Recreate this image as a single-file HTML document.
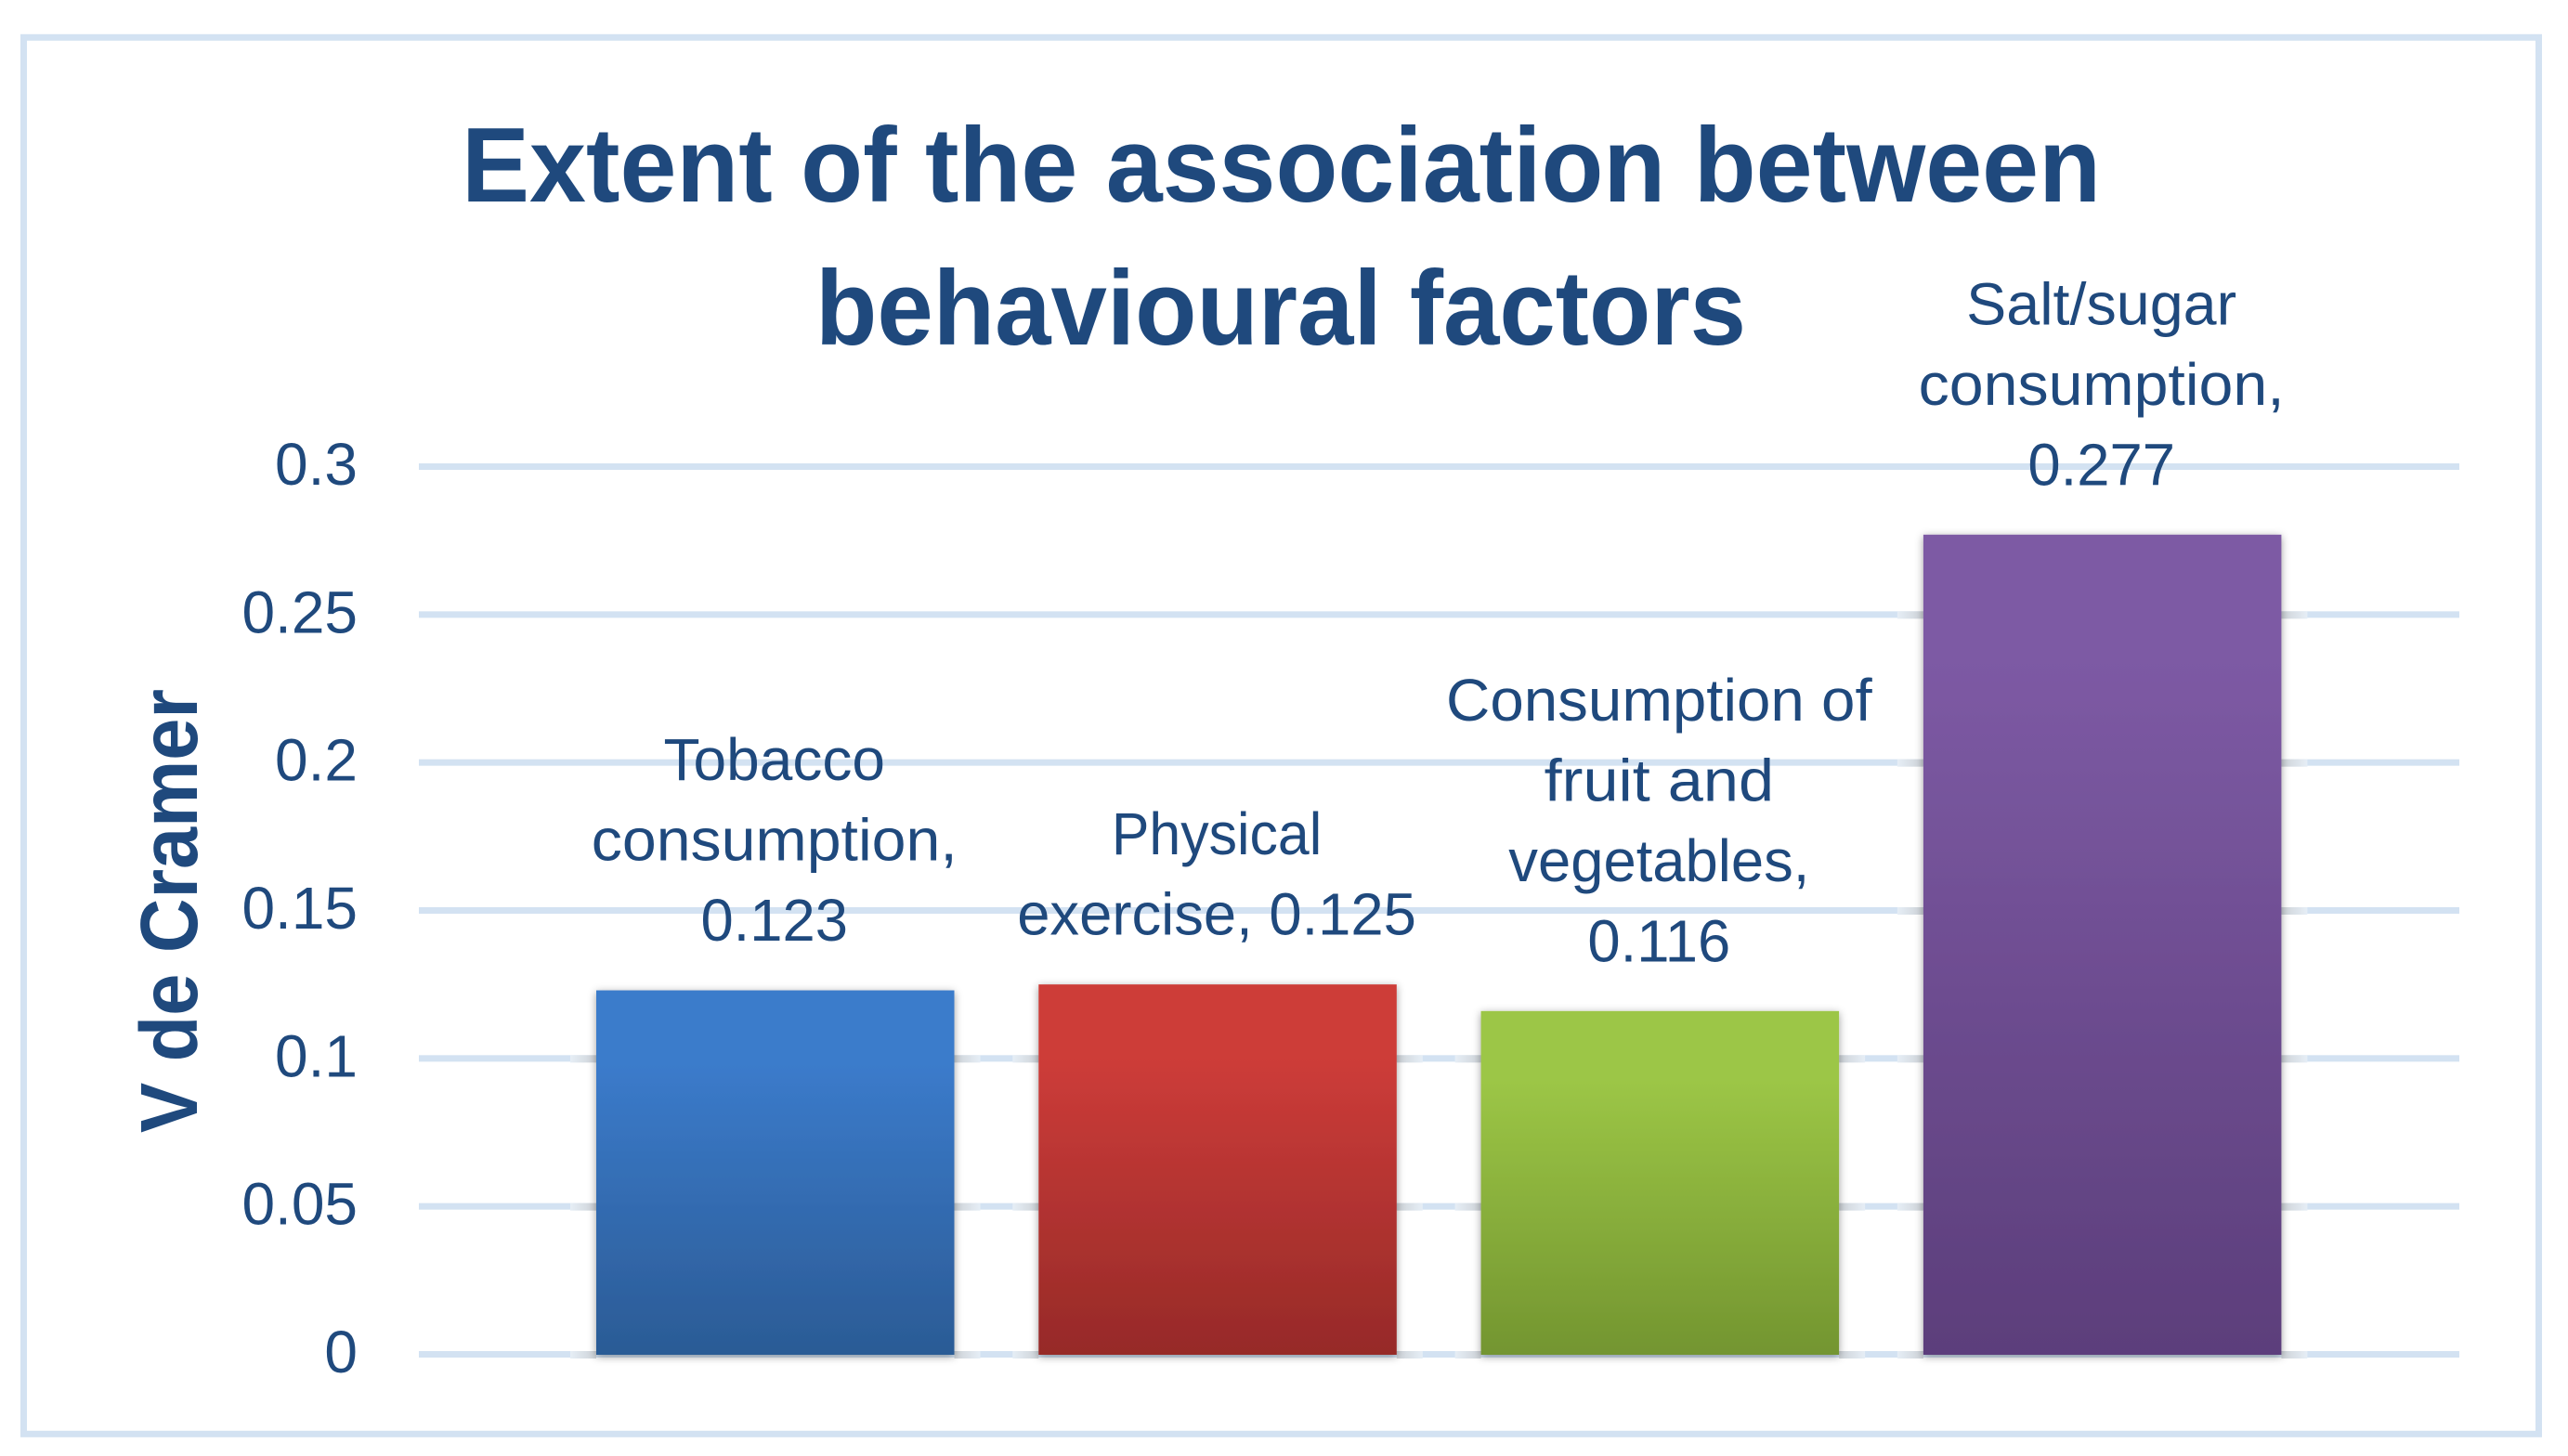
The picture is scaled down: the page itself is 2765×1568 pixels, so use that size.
<!DOCTYPE html>
<html lang="en">
<head>
<meta charset="utf-8">
<title>Extent of the association between behavioural factors</title>
<style>
  html, body { margin: 0; padding: 0; background: #ffffff; }
  svg { display: block; }
  text { font-family: "Liberation Sans", sans-serif; fill: #1F497D; }
  .title { font-size: 114px; font-weight: 700; }
  .axis-title { font-size: 87px; font-weight: 700; }
  .tick, .data-label { font-size: 64px; }
</style>
</head>
<body>
<svg id="chart" xmlns="http://www.w3.org/2000/svg" width="2765" height="1568" viewBox="0 0 2765 1568">
  <defs>
    <linearGradient id="fill-0" x1="0" y1="0" x2="0" y2="1"><stop offset="0.2" stop-color="#3B7BCB"/><stop offset="1" stop-color="#2B5B95"/></linearGradient>
    <linearGradient id="fill-1" x1="0" y1="0" x2="0" y2="1"><stop offset="0.2" stop-color="#CD3C39"/><stop offset="1" stop-color="#962A28"/></linearGradient>
    <linearGradient id="fill-2" x1="0" y1="0" x2="0" y2="1"><stop offset="0.2" stop-color="#9CC646"/><stop offset="1" stop-color="#739530"/></linearGradient>
    <linearGradient id="fill-3" x1="0" y1="0" x2="0" y2="1"><stop offset="0.15" stop-color="#7D5AA4"/><stop offset="1" stop-color="#5C3E7B"/></linearGradient>
    <linearGradient id="halo-left" x1="0" y1="0" x2="1" y2="0"><stop offset="0" stop-color="#E6EEF6"/><stop offset="1" stop-color="#CDD2D7"/></linearGradient>
    <linearGradient id="halo-right" x1="0" y1="0" x2="1" y2="0"><stop offset="0" stop-color="#CDD2D7"/><stop offset="1" stop-color="#E6EEF6"/></linearGradient>
    <filter id="bar-shadow" x="-10%" y="-5%" width="120%" height="110%">
      <feDropShadow dx="0" dy="2" stdDeviation="4.5" flood-color="#000000" flood-opacity="0.38"/>
    </filter>
  </defs>

  <rect x="25.5" y="40.3" width="2708" height="1504" fill="none" stroke="#D3E2F2" stroke-width="7"/>

  <g id="grid"></g>
  <g id="halos"></g>
  <g id="bars"></g>
  <g id="ticks"></g>
  <g id="labels"></g>

  <text class="title" x="497" y="217" textLength="1765" lengthAdjust="spacingAndGlyphs">Extent of the association between</text>
  <text class="title" x="878" y="371" textLength="1002" lengthAdjust="spacingAndGlyphs">behavioural factors</text>
  <text class="axis-title" transform="translate(212 1220) rotate(-90)" textLength="478" lengthAdjust="spacingAndGlyphs">V de Cramer</text>
</svg>

<script>
const categoryLines = [
  ['Tobacco', 'consumption,'],
  ['Physical', 'exercise,'],
  ['Consumption of', 'fruit and', 'vegetables,'],
  ['Salt/sugar', 'consumption,']
];
const seriesValues = [0.123, 0.125, 0.116, 0.277];
const tickValues = [0, 0.05, 0.1, 0.15, 0.2, 0.25, 0.3];
const tickLabels = ['0', '0.05', '0.1', '0.15', '0.2', '0.25', '0.3'];

const SVG_NS = 'http://www.w3.org/2000/svg';
const PLOT = { base: 1458.5, top: 502.5, max: 0.3, gridLeft: 451, gridRight: 2648, firstBar: 642, step: 476.3, barWidth: 385.5, halo: 28 };
const LINE_FIT = { 'Tobacco': 1.0, 'consumption,': 1.035, 'Physical': 0.95, 'Consumption of': 1.023, 'fruit and': 1.07, 'vegetables,': 0.99, 'Salt/sugar': 1.01 };

function yScale(v) {
  return PLOT.base - (v / PLOT.max) * (PLOT.base - PLOT.top);
}
function xBand(i) {
  return PLOT.firstBar + i * PLOT.step;
}
function make(tag, attrs, parent) {
  const el = document.createElementNS(SVG_NS, tag);
  Object.keys(attrs).forEach(function (k) { el.setAttribute(k, attrs[k]); });
  parent.appendChild(el);
  return el;
}
function squeeze(el, ratio) {
  el.setAttribute('textLength', (el.getComputedTextLength() * ratio).toFixed(1));
  el.setAttribute('lengthAdjust', 'spacingAndGlyphs');
}

const gridGroup = document.getElementById('grid');
const haloGroup = document.getElementById('halos');
const barGroup = document.getElementById('bars');
const tickGroup = document.getElementById('ticks');
const labelGroup = document.getElementById('labels');

tickValues.forEach(function (t, i) {
  const y = yScale(t);
  const line = make('rect', { x: PLOT.gridLeft, y: y - 3.5, width: PLOT.gridRight - PLOT.gridLeft, height: 7, fill: '#D3E2F2' }, gridGroup);
  
  

  const tick = make('text', { class: 'tick', x: 385, y: y + 19.5, 'text-anchor': 'end' }, tickGroup);
  tick.textContent = tickLabels[i];
  
  
});

seriesValues.forEach(function (value, i) {
  const x = xBand(i);
  const top = yScale(value);

  tickValues.forEach(function (t) {
    if (t > value) return;
    const y = yScale(t);
    const left = make('rect', { x: x - PLOT.halo, y: y - 3.5, width: PLOT.halo, height: 8, fill: 'url(#halo-left)' }, haloGroup);
    
    
    const right = make('rect', { x: x + PLOT.barWidth, y: y - 3.5, width: PLOT.halo, height: 8, fill: 'url(#halo-right)' }, haloGroup);
    
    
  });

  const bar = make('rect', { x: x, y: top, width: PLOT.barWidth, height: PLOT.base + 0.5 - top, fill: 'url(#fill-' + i + ')', filter: 'url(#bar-shadow)' }, barGroup);
  
  

  const valueText = String(value);
  const lines = categoryLines[i].slice();
  const last = lines[lines.length - 1];
  if (last.length + 1 + valueText.length <= 15) {
    lines[lines.length - 1] = last + ' ' + valueText;
  } else {
    lines.push(valueText);
  }
  const center = x + PLOT.barWidth / 2 - 1;
  lines.forEach(function (content, j) {
    const label = make('text', { class: 'data-label', x: center, y: top - 53.5 - (lines.length - 1 - j) * 86.5, 'text-anchor': 'middle' }, labelGroup);
    label.textContent = content;
    
    
    squeeze(label, LINE_FIT[content] || 0.99);
  });
});
</script>
</body>
</html>
